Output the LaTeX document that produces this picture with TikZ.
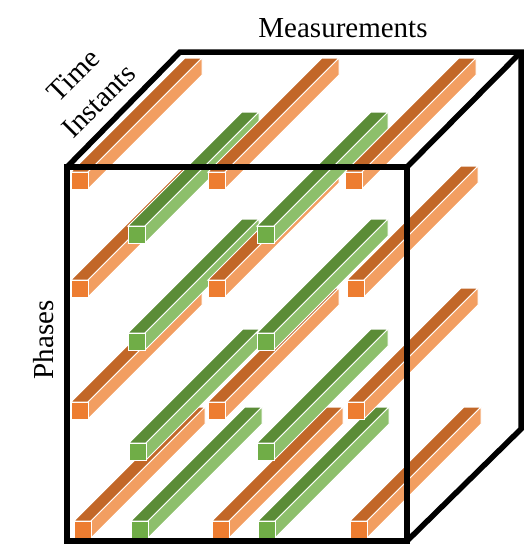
\documentclass[tikz,border=0pt]{standalone}
\usepackage{fontspec}
\setmainfont{Liberation Serif}
\usetikzlibrary{calc}
\definecolor{OrFront}{HTML}{ED7D31}
\definecolor{OrTop}{HTML}{C26728}
\definecolor{OrSide}{HTML}{F29E61}
\definecolor{GrFront}{HTML}{70AD47}
\definecolor{GrTop}{HTML}{5B8C37}
\definecolor{GrSide}{HTML}{8DBF6B}
\tikzset{
  face/.style={draw=white,line width=1pt,line join=miter},
  cubeedge/.style={draw=black,line width=5.5pt,line join=miter},
  axislabel/.style={font=\fontsize{29}{36}\selectfont,inner sep=0pt,text=black}
}
% one bar: front square at (#1,#2), colour set #3
\newcommand{\drawbar}[3]{%
  \filldraw[face,fill=#3Top] (#1,#2) -- ++(17,0) -- ++(114,-114) -- ++(-17,0) -- cycle;
  \filldraw[face,fill=#3Side] (#1+17,#2) -- ++(0,17) -- ++(114,-114) -- ++(0,-17) -- cycle;
  \filldraw[face,fill=#3Front] (#1,#2) rectangle ++(17,17);
}

\begin{document}
\begin{tikzpicture}[x=1pt,y=-1pt]
  \useasboundingbox (0,0) rectangle (525,547);
  \coordinate (fTL) at (67,167);
  \coordinate (fTR) at (407,167);
  \coordinate (fBR) at (407,541);
  \coordinate (bTL) at (180,52);
  \coordinate (bTR) at (521,52);
  \coordinate (bBR) at (521,429);
  \draw[cubeedge] (fTL) -- (bTL) -- (bTR) -- (bBR) -- (fBR);
  \draw[cubeedge] (bTR) -- (fTR);
  % bars, back to front
  \drawbar{74}{521}{Or}
  \drawbar{131}{521}{Gr}
  \drawbar{71}{402}{Or}
  \drawbar{129}{443}{Gr}
  \drawbar{212}{521}{Or}
  \drawbar{258}{521}{Gr}
  \drawbar{71}{280}{Or}
  \drawbar{128}{333}{Gr}
  \drawbar{208}{402}{Or}
  \drawbar{257}{443}{Gr}
  \drawbar{350}{521}{Or}
  \drawbar{71}{172}{Or}
  \drawbar{128}{226}{Gr}
  \drawbar{257}{333}{Gr}
  \drawbar{208}{280}{Or}
  \drawbar{347}{402}{Or}
  \drawbar{257}{226}{Gr}
  \drawbar{208}{172}{Or}
  \drawbar{347}{280}{Or}
  \drawbar{345}{172}{Or}
  \draw[cubeedge] (fTL) rectangle (fBR);
  \node[axislabel,anchor=base] (meas) at (343,37) {Measurements};
  \node[axislabel,rotate=90,anchor=base] (phases) at (53,340) {Phases};
  \node[axislabel,rotate=45,align=center] (time) at (86,88) {Time\\Instants};
\end{tikzpicture}
\end{document}
